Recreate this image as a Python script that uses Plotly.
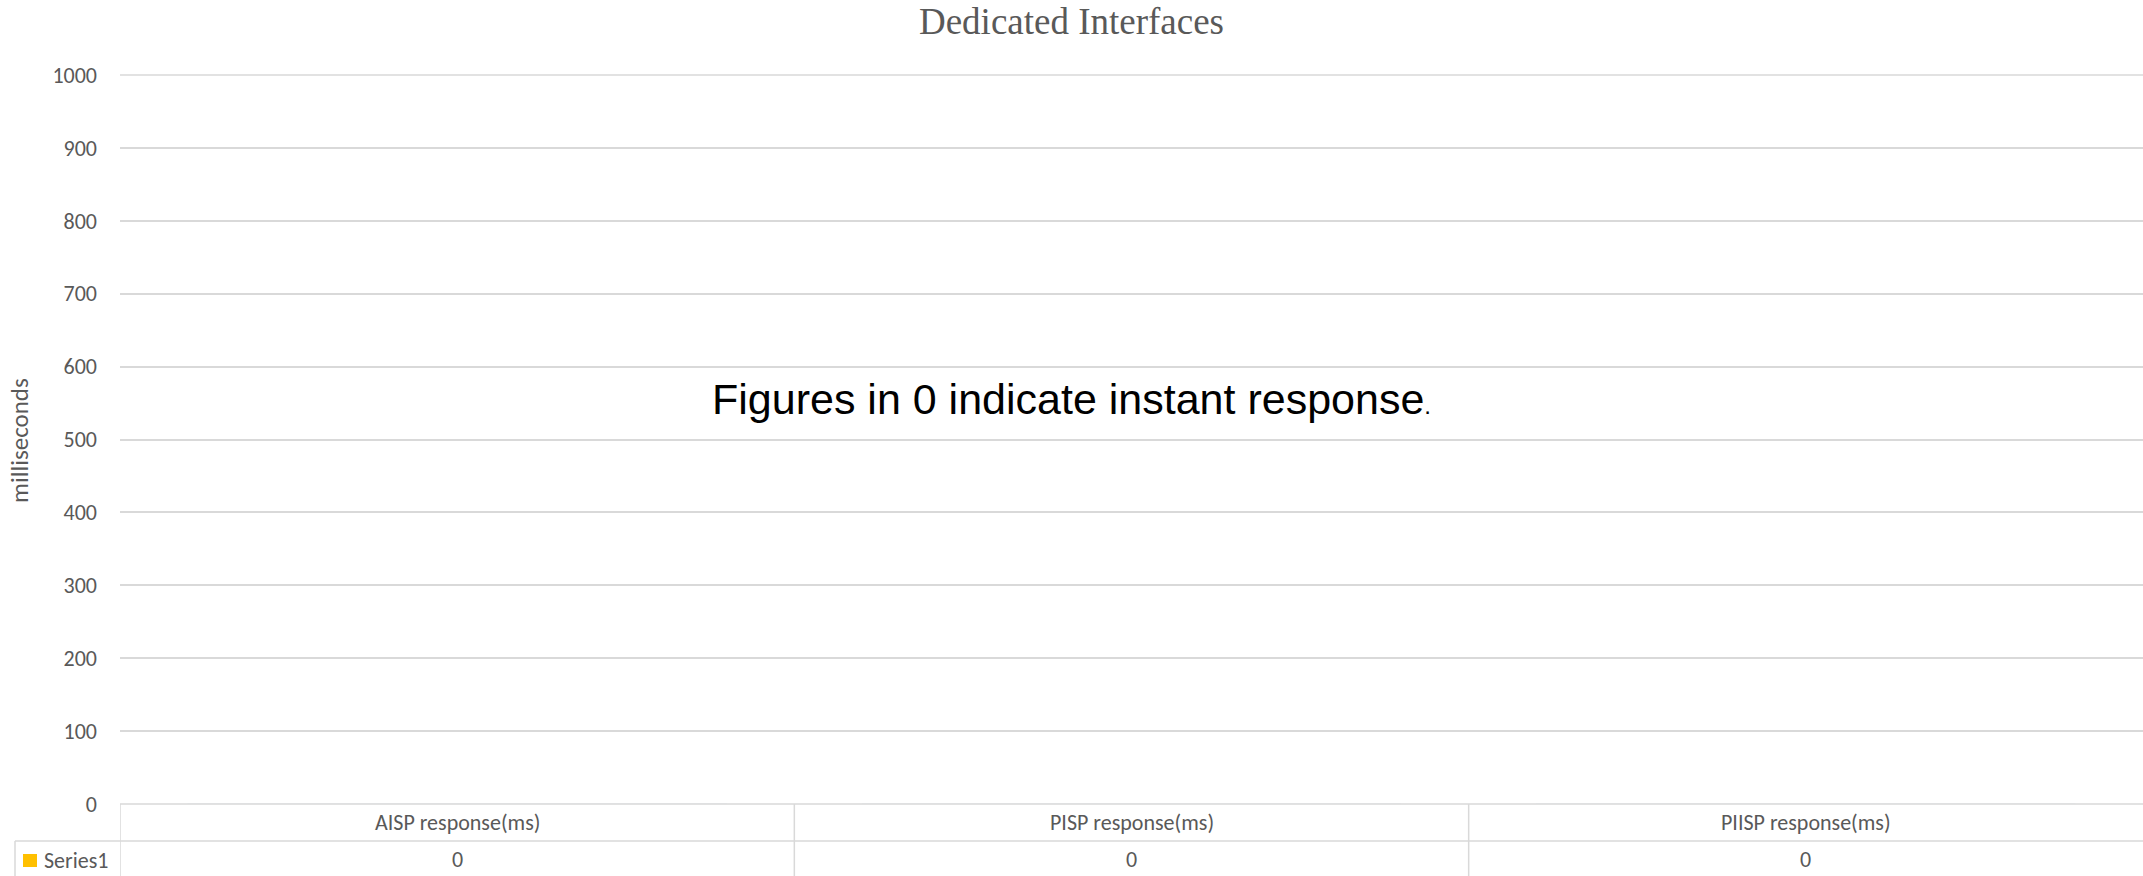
import plotly.graph_objects as go

# ---- data ----
categories = ["AISP response(ms)", "PISP response(ms)", "PIISP response(ms)"]
series_name = "Series1"
series_values = [0, 0, 0]
y_ticks = list(range(0, 1001, 100))
chart_title = "Dedicated Interfaces"
y_title = "milliseconds"
note_text = "Figures in 0 indicate instant response"

# ---- styling ----
SERIES_COLOR = "#FFC000"
GRID = "#D9D9D9"
TEXT = "#595959"
UI_FONT = "Calibri, Carlito, Lato, sans-serif"

W, H = 2143, 876
ML, MR, MT, MB = 120, 0, 75, 72
PLOT_W = W - ML - MR
PLOT_H = H - MT - MB
ROW_H = 37


def paper_x(px):
    return (px - ML) / PLOT_W


def paper_y(py):
    return (H - MB - py) / PLOT_H


fig = go.Figure()
fig.add_trace(go.Bar(
    x=categories, y=series_values, name=series_name,
    marker_color=SERIES_COLOR, showlegend=False,
))

row1 = -ROW_H / PLOT_H          # header row bottom
row2 = -2 * ROW_H / PLOT_H      # data row bottom
legend_left = paper_x(15)
line_style = dict(color=GRID, width=1.5)

shapes = [
    # gridline at the top of the value range (plot top edge)
    dict(type="line", xref="paper", yref="paper", x0=0, x1=1, y0=1, y1=1, line=line_style),
    # data table borders
    dict(type="line", xref="paper", yref="paper", x0=0, x1=1, y0=0, y1=0, line=line_style),
    dict(type="line", xref="paper", yref="paper", x0=legend_left, x1=1, y0=row1, y1=row1, line=line_style),
    dict(type="line", xref="paper", yref="paper", x0=legend_left, x1=1, y0=row2, y1=row2, line=line_style),
    dict(type="line", xref="paper", yref="paper", x0=legend_left, x1=legend_left, y0=row1, y1=row2, line=line_style),
]
# column separators of the data table
for i in range(len(categories)):
    shapes.append(dict(type="line", xref="x", yref="paper", x0=i - 0.5, x1=i - 0.5,
                       y0=0, y1=row2, line=line_style))

# legend key in the data table
shapes.append(dict(type="rect", xref="paper", yref="paper",
                   x0=paper_x(23), x1=paper_x(37), y0=paper_y(854), y1=paper_y(867),
                   fillcolor=SERIES_COLOR, line=dict(width=0)))

annotations = []
for i, (cat, val) in enumerate(zip(categories, series_values)):
    annotations.append(dict(x=i, xref="x", y=row1 / 2, yref="paper", text=cat,
                            showarrow=False, font=dict(family=UI_FONT, size=22, color=TEXT),
                            xanchor="center", yanchor="middle"))
    annotations.append(dict(x=i, xref="x", y=(row1 + row2) / 2, yref="paper", text=str(val),
                            showarrow=False, font=dict(family=UI_FONT, size=22, color=TEXT),
                            xanchor="center", yanchor="middle"))

annotations.append(dict(x=paper_x(42), xref="paper", y=paper_y(860), yref="paper", text=series_name,
                        showarrow=False, font=dict(family=UI_FONT, size=22, color=TEXT),
                        xanchor="left", yanchor="middle"))

annotations.append(dict(x=paper_x(20), xref="paper", y=paper_y(441), yref="paper", text=y_title,
                        textangle=-90, showarrow=False,
                        font=dict(family=UI_FONT, size=25, color=TEXT),
                        xanchor="center", yanchor="middle"))

# note text box, centred on the page
annotations.append(dict(x=paper_x(W / 2), xref="paper", y=paper_y(399), yref="paper",
                        text=note_text + '<span style="font-size:24px">.</span>',
                        showarrow=False,
                        font=dict(family="Arial, Liberation Sans, sans-serif", size=43, color="#000000"),
                        xanchor="center", yanchor="middle"))

fig.update_layout(
    width=W, height=H,
    margin=dict(l=ML, r=MR, t=MT, b=MB, pad=0),
    paper_bgcolor="white", plot_bgcolor="white",
    title=dict(text=chart_title, xref="container", x=0.5, xanchor="center",
               yref="container", y=1 - 21 / H, yanchor="middle",
               font=dict(family="Times New Roman, Liberation Serif, serif", size=37, color=TEXT)),
    xaxis=dict(type="category", range=[-0.5, len(categories) - 0.5],
               showticklabels=False, showgrid=False, zeroline=False, showline=False, ticks=""),
    yaxis=dict(range=[0, 1000], tickvals=y_ticks, showgrid=True, gridcolor=GRID, gridwidth=1.5,
               zeroline=False, showline=False, ticks="", ticklabelstandoff=22,
               tickfont=dict(family=UI_FONT, size=22, color=TEXT)),
    shapes=shapes,
    annotations=annotations,
    showlegend=False,
)

fig.write_html("out.html")
